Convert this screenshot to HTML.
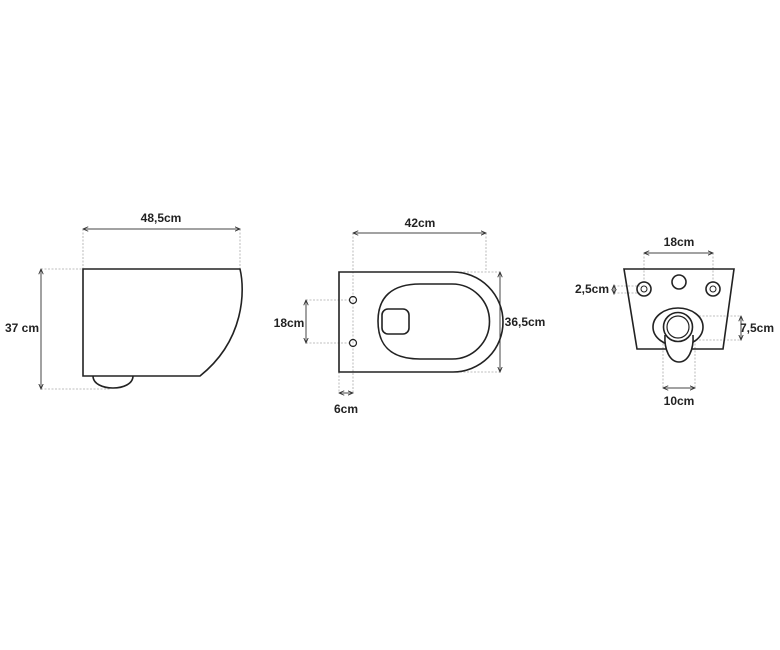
<!DOCTYPE html>
<html><head><meta charset="utf-8"><style>
html,body{margin:0;padding:0;background:#fff;}
svg{display:block;}
text{font-family:"Liberation Sans",sans-serif;font-weight:bold;font-size:12px;fill:#222;}
</style></head><body>
<svg width="780" height="650" viewBox="0 0 780 650" xmlns="http://www.w3.org/2000/svg">
<defs>
<marker id="a" viewBox="0 0 8 8" refX="7" refY="4" markerWidth="6" markerHeight="6" orient="auto-start-reverse"><path d="M0,1 L7,4 L0,7" fill="none" stroke="#333" stroke-width="1.2"/></marker>
</defs>
<g fill="none" stroke="#aaa" stroke-width="0.8" stroke-dasharray="2,1.5">
<line x1="83" y1="229" x2="83" y2="269"/><line x1="240" y1="229" x2="240" y2="269"/>
<line x1="41" y1="269" x2="83" y2="269"/><line x1="41" y1="389" x2="110" y2="389"/>
<line x1="353" y1="233" x2="353" y2="393"/><line x1="486" y1="233" x2="486" y2="272"/>
<line x1="453" y1="272" x2="500" y2="272"/><line x1="453" y1="372" x2="500" y2="372"/>
<line x1="306" y1="300" x2="350" y2="300"/><line x1="306" y1="343" x2="350" y2="343"/>
<line x1="339" y1="372" x2="339" y2="393"/>
<line x1="644" y1="253" x2="644" y2="283"/><line x1="713" y1="253" x2="713" y2="283"/>
<line x1="614" y1="286" x2="640" y2="286"/><line x1="614" y1="293" x2="640" y2="293"/>
<line x1="692" y1="316" x2="741" y2="316"/><line x1="692" y1="340" x2="741" y2="340"/>
<line x1="663" y1="340" x2="663" y2="388"/><line x1="695" y1="340" x2="695" y2="388"/>
</g>
<g fill="none" stroke="#444" stroke-width="1" marker-start="url(#a)" marker-end="url(#a)">
<line x1="83" y1="229" x2="240" y2="229"/>
<line x1="41" y1="269" x2="41" y2="389"/>
<line x1="353" y1="233" x2="486" y2="233"/>
<line x1="500" y1="272" x2="500" y2="372"/>
<line x1="306" y1="300" x2="306" y2="343"/>
<line x1="339" y1="393" x2="353" y2="393"/>
<line x1="644" y1="253" x2="713" y2="253"/>
<line x1="614" y1="285" x2="614" y2="294"/>
<line x1="741" y1="316" x2="741" y2="340"/>
<line x1="663" y1="388" x2="695" y2="388"/>
</g>
<g fill="none" stroke="#222" stroke-width="1.6">
<path d="M83,269 H240 C245,290 245,340 200,376 H83 Z"/>
<path d="M93,376 C93,392 133,392 133,376"/>
<path d="M339,272 H453 A50,50 0 0 1 453,372 H339 Z"/>
<path d="M420,284 H452 A37.5,37.5 0 0 1 452,359 H420 C390,359 378,345 378,321 C378,297 392,284 420,284 Z"/>
<rect x="382" y="309" width="27" height="25" rx="6"/>
<circle cx="353" cy="300" r="3.5" stroke-width="1.2"/>
<circle cx="353" cy="343" r="3.5" stroke-width="1.2"/>
<path d="M624,269 H734 L723,349 H637 Z"/>
<circle cx="644" cy="289" r="7"/><circle cx="644" cy="289" r="3" stroke-width="1"/>
<circle cx="713" cy="289" r="7"/><circle cx="713" cy="289" r="3" stroke-width="1"/>
<circle cx="679" cy="282" r="7"/>
<ellipse cx="678" cy="327" rx="25" ry="19" fill="#fff"/>
<path d="M665,335 C664,350 670,362 679,362 C688,362 694,350 693,335" fill="#fff"/>
<circle cx="678" cy="327" r="14.5" fill="#fff"/>
<circle cx="678" cy="327" r="11" stroke-width="1.2"/>
</g>
<text x="161" y="222" text-anchor="middle">48,5cm</text>
<text x="22" y="332" text-anchor="middle">37 cm</text>
<text x="420" y="227" text-anchor="middle">42cm</text>
<text x="525" y="326" text-anchor="middle">36,5cm</text>
<text x="289" y="327" text-anchor="middle">18cm</text>
<text x="346" y="413" text-anchor="middle">6cm</text>
<text x="679" y="246" text-anchor="middle">18cm</text>
<text x="609" y="293" text-anchor="end">2,5cm</text>
<text x="757" y="332" text-anchor="middle">7,5cm</text>
<text x="679" y="405" text-anchor="middle">10cm</text>
</svg>
</body></html>
